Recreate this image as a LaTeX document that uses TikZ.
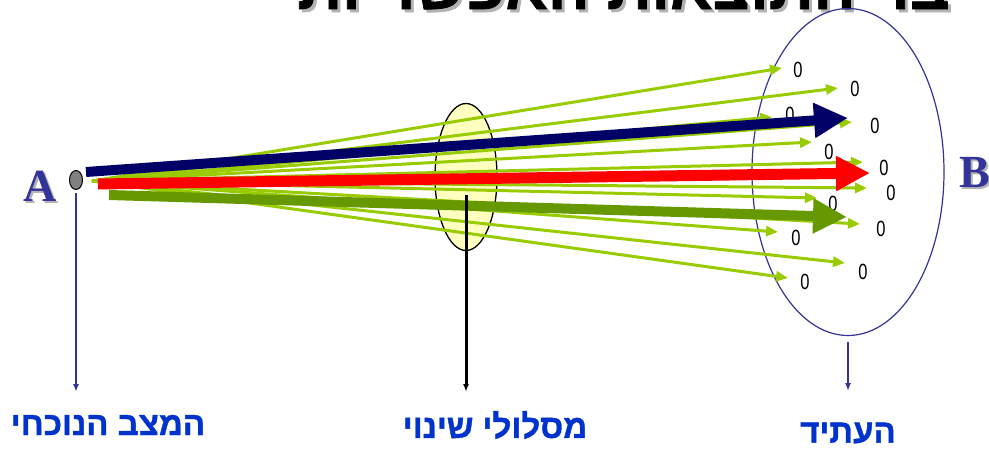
\documentclass[tikz,border=0pt]{standalone}
\usepackage{fontspec}
\setmainfont{Liberation Sans}
\newfontfamily\hebfont[Script=Hebrew]{Liberation Sans}
\newfontfamily\hebbold[Script=Hebrew,FakeBold=1.2]{Liberation Sans Bold}
\newfontfamily\serifb{Liberation Serif}
\TeXXeTstate=1
\usetikzlibrary{arrows.meta,shapes.geometric}
\definecolor{lgreen}{HTML}{99CC00}
\definecolor{navyc}{HTML}{000066}
\definecolor{olivec}{HTML}{669900}
\definecolor{abblue}{HTML}{333399}
\definecolor{txtblue}{HTML}{0033CC}
\definecolor{pyellow}{HTML}{FFFFC0}
\begin{document}
\begin{tikzpicture}[x=1pt,y=-1pt,
  thinarrow/.style={lgreen, line width=3pt, -{Triangle[length=12pt,width=10pt]}},
  bigarrow/.style={line width=11pt, -{Triangle[length=34pt,width=33pt]}},
  zero/.style={font=\fontsize{22}{22}\selectfont, inner sep=0pt, xscale=0.75},
  letter/.style={font=\serifb\bfseries\fontsize{46}{46}\selectfont, inner sep=0pt},
  hlabel/.style={font=\hebbold\fontsize{33}{33}\selectfont, text=txtblue, inner sep=0pt},
  downarrow/.style={-{Latex[length=8pt,width=6pt]}}
]
\useasboundingbox (0,0) rectangle (989,450);

% title (cut off at top)
\node[anchor=base east, font=\hebbold\fontsize{62}{62}\selectfont, text=black!30, inner sep=0pt] (titleshadow) at (1006,12) {\beginR ריבוי התוצאות האפשריות\endR};
\node[anchor=base east, font=\hebbold\fontsize{62}{62}\selectfont, text=black, inner sep=0pt] (title) at (1003,9) {\beginR ריבוי התוצאות האפשריות\endR};

% future ellipse
\node[ellipse, draw=abblue, line width=1.2pt, minimum width=192pt, minimum height=327pt, inner sep=0pt] (fut) at (848,172) {};

% middle ellipse
\node[ellipse, draw=black, line width=1.3pt, fill=pyellow, minimum width=62pt, minimum height=147pt, inner sep=0pt] (mid) at (466,177) {};

% zeros
\foreach \i/\x/\y in {1/798/70, 2/855/89, 3/790/115, 4/875/126, 5/829/152, 6/884/168, 7/891/193, 8/833/204, 9/881/229, 10/796/238, 11/863/272, 12/805/282}
  \node[zero] (z\i) at (\x,\y) {0};

% source point
\coordinate (gs) at (92,181);
% thin green arrows
\foreach \i/\x/\y in {1/782/68, 2/838/88, 3/772/117, 4/852/122, 5/812/142, 6/863/162, 7/867/188, 8/817/198, 9/860/224, 10/778/232, 11/845/263, 12/788/278}
{
  \coordinate (gt\i) at (\x,\y);
  \draw[thinarrow] (gs) -- (gt\i);
}

% thick arrows
\coordinate (ns) at (86,172);
\coordinate (nt) at (848,118);
\coordinate (rs) at (98,184);
\coordinate (rt) at (870,173);
\coordinate (os) at (109,195);
\coordinate (ot) at (847,217);
\draw[bigarrow, olivec, line width=10pt] (os) -- (ot);
\draw[bigarrow, navyc, line width=10pt] (ns) -- (nt);
\draw[bigarrow, red, line width=11pt] (rs) -- (rt);

% point A
\node[ellipse, draw=black, line width=1pt, fill=gray, minimum width=13pt, minimum height=19pt, inner sep=0pt] (pa) at (76,180) {};

% letters A and B
\node[letter, text=black!30] (lashadow) at (42,188) {A};
\node[letter, text=abblue] (la) at (40,186) {A};
\node[letter, text=black!30] (lbshadow) at (977,175) {B};
\node[letter, text=abblue] (lb) at (975,173) {B};

% vertical arrows
\coordinate (v1s) at (76,193);
\coordinate (v1e) at (76,392);
\draw[downarrow, abblue, line width=2pt] (v1s) -- (v1e);
\coordinate (v2s) at (466,195);
\coordinate (v2e) at (466,392);
\draw[downarrow, black, line width=3pt] (v2s) -- (v2e);
\coordinate (v3e) at (848,391);
\draw[downarrow, abblue, line width=2pt] (fut.south) ++(0,6) -- (v3e);

% bottom labels
\node[hlabel] (l1) at (108,425) {\beginR המצב הנוכחי\endR};
\node[hlabel] (l2) at (495,425) {\beginR מסלולי שינוי\endR};
\node[hlabel] (l3) at (848,433) {\beginR העתיד\endR};
\end{tikzpicture}
\end{document}
